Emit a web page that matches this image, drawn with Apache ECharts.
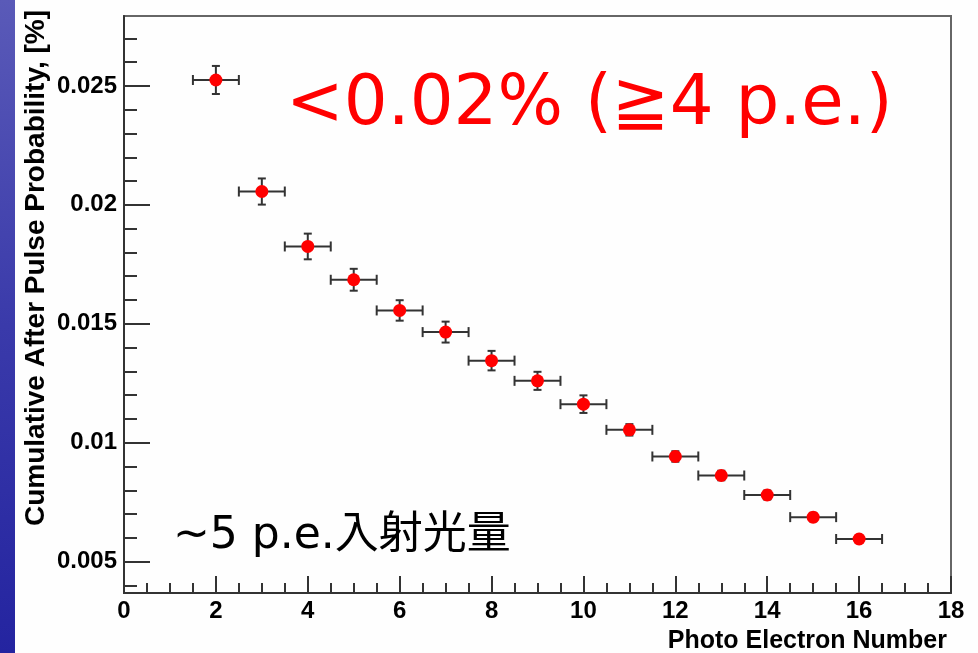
<!DOCTYPE html>
<html>
<head>
<meta charset="utf-8">
<script src="https://cdn.jsdelivr.net/npm/echarts@6/dist/echarts.min.js"></script>
<style>html,body{margin:0;padding:0;background:#fefefe;}#c{width:978px;height:653px;}</style>
</head>
<body>
<div id="c"></div>
<script>
// ---- data ----
const peNumber = [2, 3, 4, 5, 6, 7, 8, 9, 10, 11, 12, 13, 14, 15, 16];
const afterPulseProb = [0.02525, 0.02056, 0.01825, 0.01685, 0.01556, 0.01465, 0.01345, 0.01260, 0.01162, 0.01054, 0.00942, 0.00862, 0.00780, 0.00687, 0.00595];
const probErr = [0.00059, 0.00055, 0.00054, 0.00046, 0.00043, 0.00044, 0.00041, 0.00038, 0.00037, 0.00024, 0.00022, 0.00020, 0.00019, 0.00018, 0.00017];
const peErr = [0.5, 0.5, 0.5, 0.5, 0.5, 0.5, 0.5, 0.5, 0.5, 0.5, 0.5, 0.5, 0.5, 0.5, 0.5];
const yMajorTicks = [0.005, 0.01, 0.015, 0.02, 0.025];
const yMinorTicks = [0.004, 0.006, 0.007, 0.008, 0.009, 0.011, 0.012, 0.013, 0.014, 0.016, 0.017, 0.018, 0.019, 0.021, 0.022, 0.023, 0.024, 0.026, 0.027];
const yRange = [0.00368, 0.02794];
const xRange = [0, 18];
const xTitle = 'Photo Electron Number';
const yTitle = 'Cumulative After Pulse Probability, [%]';
const noteTop = '<0.02% (≧4 p.e.)';
const noteBottom = '~5 p.e.入射光量';

const points = peNumber.map((x, i) => [x, afterPulseProb[i], peErr[i], probErr[i]]);

const chart = echarts.init(document.getElementById('c'), null, {renderer: 'canvas'});
const tickFont = {fontFamily: 'Liberation Sans, Arial, sans-serif', fontWeight: 'bold', fontSize: 24, color: '#000'};

function renderErr(params, api) {
  const x = api.value(0), y = api.value(1), xe = api.value(2), ye = api.value(3);
  const l = api.coord([x - xe, y]);
  const r = api.coord([x + xe, y]);
  const t = api.coord([x, y + ye]);
  const b = api.coord([x, y - ye]);
  const st = {stroke: '#333', lineWidth: 2};
  const ln = (x1, y1, x2, y2) => ({type: 'line', shape: {x1, y1, x2, y2}, style: st});
  return {type: 'group', children: [
    ln(l[0], l[1], r[0], r[1]),
    ln(l[0], l[1] - 5, l[0], l[1] + 5),
    ln(r[0], r[1] - 5, r[0], r[1] + 5),
    ln(t[0], t[1], b[0], b[1]),
    ln(t[0] - 4, t[1], t[0] + 4, t[1]),
    ln(b[0] - 4, b[1], b[0] + 4, b[1])
  ]};
}

chart.setOption({
  backgroundColor: '#fefefe',
  animation: false,
  grid: {left: 124, top: 16, right: 27, bottom: 60, show: true, borderColor: '#666', borderWidth: 2, backgroundColor: '#fefefe'},
  xAxis: {
    type: 'value', min: xRange[0], max: xRange[1], interval: 2,
    axisLine: {show: true, lineStyle: {color: '#333', width: 2}},
    axisTick: {show: true, inside: true, length: 17, lineStyle: {color: '#333', width: 2}},
    minorTick: {show: true, splitNumber: 4, length: 10, lineStyle: {color: '#333', width: 2}},
    splitLine: {show: false},
    axisLabel: Object.assign({margin: 6}, tickFont)
  },
  yAxis: [{
    type: 'value', min: yRange[0], max: yRange[1],
    axisLine: {show: true, lineStyle: {color: '#333', width: 2}},
    axisTick: {show: true, inside: true, length: 26, customValues: yMajorTicks, lineStyle: {color: '#333', width: 2}},
    splitLine: {show: false},
    axisLabel: Object.assign({margin: 7, customValues: yMajorTicks, formatter: v => String(+(+v).toFixed(3))}, tickFont)
  }, {
    type: 'value', min: yRange[0], max: yRange[1], position: 'left',
    axisLine: {show: false},
    axisTick: {show: true, inside: true, length: 13, customValues: yMinorTicks, lineStyle: {color: '#333', width: 2}},
    splitLine: {show: false},
    axisLabel: {show: false, customValues: yMinorTicks}
  }],
  series: [{
    type: 'custom', renderItem: renderErr, data: points, z: 2,
    encode: {x: 0, y: 1}
  }, {
    type: 'scatter', data: points.map(p => [p[0], p[1]]), symbol: 'circle', symbolSize: 13,
    itemStyle: {color: '#ff0000', opacity: 1}, z: 5
  }],
  graphic: [
    {type: 'rect', left: 0, top: 0, z: -10, shape: {width: 15, height: 653},
      style: {fill: new echarts.graphic.LinearGradient(0, 0, 0, 1, [{offset: 0, color: '#5a5ab8'}, {offset: 0.5, color: '#3a3aaa'}, {offset: 1, color: '#2424a0'}])}},
    {type: 'text', x: 36, y: 10, rotation: Math.PI / 2, z: 10,
      style: {text: yTitle, align: 'right', verticalAlign: 'middle', font: 'bold 28px "Liberation Sans", Arial, sans-serif', fill: '#000'}},
    {type: 'text', x: 947, y: 641, z: 10,
      style: {text: xTitle, align: 'right', verticalAlign: 'middle', font: 'bold 25px "Liberation Sans", Arial, sans-serif', fill: '#000'}},
    {type: 'text', x: 286, y: 106, z: 10,
      style: {text: noteTop, align: 'left', verticalAlign: 'middle', font: '69px "DejaVu Sans", "Noto Sans CJK JP", sans-serif', fill: '#ff0000'}},
    {type: 'text', x: 173, y: 537, z: 10,
      style: {text: noteBottom, align: 'left', verticalAlign: 'middle', font: '44px "DejaVu Sans", "Noto Sans CJK JP", sans-serif', fill: '#000'}}
  ]
});
</script>
</body>
</html>
